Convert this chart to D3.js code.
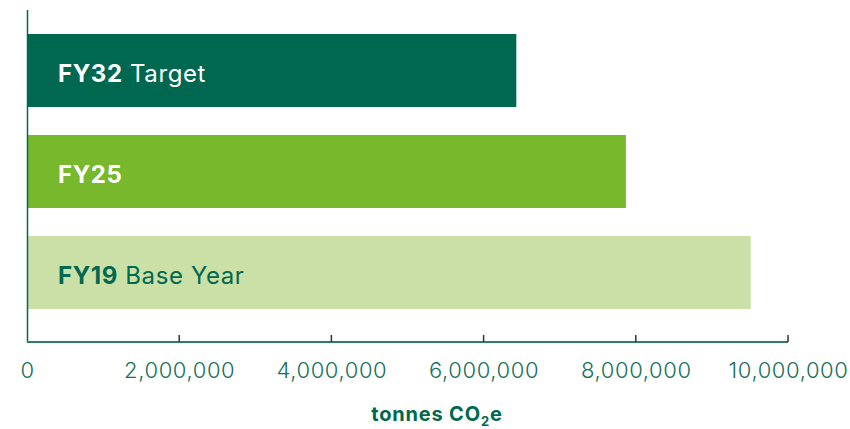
<!DOCTYPE html>
<html>
<head>
<meta charset="utf-8">
<script src="https://cdn.jsdelivr.net/npm/d3@7"></script>
<style>
  html, body { margin: 0; padding: 0; background: #ffffff; }
  svg { display: block; font-family: Inter, "Noto Sans", Roboto, sans-serif; }
</style>
</head>
<body>
<svg id="chart" width="850" height="429"></svg>
<script>
// Emissions by fiscal year, tonnes CO2e
const categories = ["FY32", "FY25", "FY19"];
const suffixes = ["Target", "", "Base Year"];
const values = [6430000, 7870000, 9510000];
const barColors = ["#006850", "#78b82c", "#cbe0a6"];
const labelColors = ["#ffffff", "#ffffff", "#006850"];
const tickValues = [0, 2000000, 4000000, 6000000, 8000000, 10000000];

const svg = d3.select("#chart");

const x = d3.scaleLinear().domain([0, 10000000]).range([27, 788]);
const y = d3.scaleBand().domain(categories).range([34, 309]).paddingInner(0.2772).paddingOuter(0);

const axisY = 342;

// bars
svg.append("g").selectAll("rect")
  .data(categories)
  .join("rect")
  .attr("x", x(0))
  .attr("y", d => y(d))
  .attr("width", (d, i) => x(values[i]) - x(0))
  .attr("height", y.bandwidth())
  .attr("fill", (d, i) => barColors[i]);

// in-bar labels
const labels = svg.append("g").selectAll("text")
  .data(categories)
  .join("text")
  .attr("x", 58)
  .attr("y", d => y(d) + 48)
  .attr("font-size", 24)
  .attr("letter-spacing", 0.6)
  .attr("fill", (d, i) => labelColors[i]);
labels.append("tspan").attr("font-weight", 700).text(d => d);
labels.append("tspan")
  .attr("font-weight", 400)
  .text((d, i) => suffixes[i] ? "\u00a0" + suffixes[i] : "");

// left axis line
svg.append("line")
  .attr("x1", 27.5).attr("x2", 27.5)
  .attr("y1", 10).attr("y2", axisY)
  .attr("stroke", "#006850").attr("stroke-width", 1.5);

// bottom axis
const xAxis = d3.axisBottom(x)
  .tickValues(tickValues)
  .tickFormat(d3.format(","))
  .tickSize(0)
  .tickPadding(20);

const gx = svg.append("g").attr("transform", `translate(0,${axisY})`).call(xAxis);
gx.select(".domain").remove();
gx.selectAll("text")
  .attr("font-family", "Inter, 'Noto Sans', sans-serif")
  .attr("font-size", 22)
  .attr("letter-spacing", 0.6)
  .attr("font-weight", 300)
  .attr("fill", "#17705a");

svg.append("line")
  .attr("x1", x(0)).attr("x2", x(10000000))
  .attr("y1", axisY).attr("y2", axisY)
  .attr("stroke", "#2f7c6a").attr("stroke-width", 2);

// small tick marks above the axis line
svg.append("g").selectAll("line")
  .data(tickValues.slice(1))
  .join("line")
  .attr("x1", d => x(d)).attr("x2", d => x(d))
  .attr("y1", axisY - 7).attr("y2", axisY)
  .attr("stroke", "#333333").attr("stroke-width", 1.5);

// axis title
const title = svg.append("text")
  .attr("x", 437)
  .attr("y", 421)
  .attr("text-anchor", "middle")
  .attr("font-size", 20)
  .attr("letter-spacing", 0.8)
  .attr("font-weight", 700)
  .attr("fill", "#006850");
title.append("tspan").text("tonnes CO");
title.append("tspan").attr("font-size", 13).attr("dy", 5).text("2");
title.append("tspan").attr("dy", -5).text("e");
</script>
</body>
</html>
